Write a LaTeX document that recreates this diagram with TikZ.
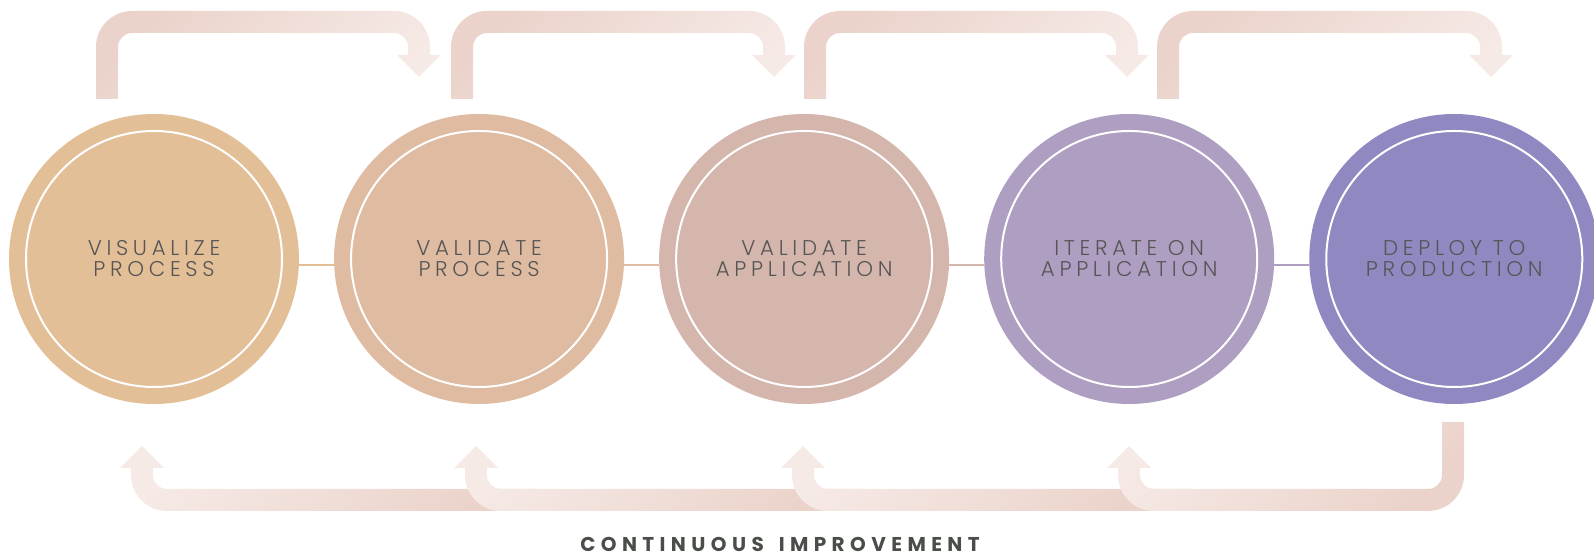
\documentclass[tikz,border=0pt]{standalone}
\usepackage{fontspec}
\setmainfont{Poppins}
\newfontfamily\stagefont[LetterSpace=22, UprightFont=* Light]{Poppins}
\newfontfamily\titlefont[LetterSpace=27, UprightFont=* Bold]{Poppins}
\usetikzlibrary{positioning}

\definecolor{stageA}{RGB}{227,191,152}
\definecolor{stageB}{RGB}{222,187,161}
\definecolor{stageC}{RGB}{212,182,172}
\definecolor{stageD}{RGB}{174,159,194}
\definecolor{stageE}{RGB}{144,137,193}
\definecolor{labelgray}{RGB}{85,85,85}
\definecolor{titlegray}{RGB}{74,78,72}
\definecolor{flowdark}{RGB}{235,211,203}
\definecolor{flowlight}{RGB}{246,234,230}

\begin{document}
\begin{tikzpicture}[
    x=0.75pt, y=0.75pt,
    node distance=25.9pt,
    stage/.style={circle, minimum size=217.5pt, inner sep=0pt, align=center,
                  text=labelgray, font=\stagefont\fontsize{16}{15.75}\selectfont},
    ring/.style={draw=white, line width=1.5pt},
    link/.style={line width=1.5pt},
    topflow/.style={top color=flowdark, bottom color=flowlight, shading angle=45},
    bottomflow/.style={top color=flowlight, bottom color=flowdark, shading angle=45},
    caption/.style={text=titlegray, font=\titlefont\fontsize{15}{18}\selectfont},
]
\useasboundingbox (0,0) rectangle (1594,555);

% Forward arrows over the stages
\foreach \a/\b in {107/419, 462/774, 815/1127, 1168/1491} {
  \shade[topflow] (\a-11,456) -- (\a-11,508) arc[start angle=180, end angle=90, radius=36]
    -- (\b-25,544) arc[start angle=90, end angle=0, radius=36]
    -- (\b+11,500) -- (\b+22,500) -- (\b,478) -- (\b-22,500) -- (\b-11,500)
    -- (\b-11,508) arc[start angle=0, end angle=90, radius=14]
    -- (\a+25,522) arc[start angle=90, end angle=180, radius=14]
    -- (\a+11,456) -- cycle;
}

% Feedback arrows under the stages
\foreach \k/\s in {142/536, 476/863, 803/1189} {
  \shade[bottomflow] (\s,66) -- (\k+25,66) arc[start angle=270, end angle=180, radius=14]
    -- (\k+11,87) -- (\k+22,87) -- (\k,109) -- (\k-22,87) -- (\k-11,87)
    -- (\k-11,80) arc[start angle=180, end angle=270, radius=36]
    -- (\s,44) -- cycle;
}
\shade[bottomflow] (1464,133) -- (1464,80) arc[start angle=0, end angle=-90, radius=36]
  -- (1154,44) arc[start angle=270, end angle=180, radius=36]
  -- (1118,87) -- (1107,87) -- (1129,109) -- (1151,87) -- (1140,87)
  -- (1140,80) arc[start angle=180, end angle=270, radius=14]
  -- (1428,66) arc[start angle=270, end angle=360, radius=14]
  -- (1442,133) -- cycle;

% Stages
\node[stage, fill=stageA] (visualize) at (154,296) {VISUALIZE\\PROCESS};
\node[stage, fill=stageB, right=of visualize] (valprocess) {VALIDATE\\PROCESS};
\node[stage, fill=stageC, right=of valprocess] (valapp) {VALIDATE\\APPLICATION};
\node[stage, fill=stageD, right=of valapp] (iterate) {ITERATE ON\\APPLICATION};
\node[stage, fill=stageE, right=of iterate] (deploy) {DEPLOY TO\\PRODUCTION};

\foreach \n in {visualize, valprocess, valapp, iterate, deploy}
  \draw[ring] (\n.center) circle[radius=128];

% Links between stages
\draw[link, stageA] ([yshift=-4.5pt]visualize.east) -- ([yshift=-4.5pt]valprocess.west);
\draw[link, stageB] ([yshift=-4.5pt]valprocess.east) -- ([yshift=-4.5pt]valapp.west);
\draw[link, stageC] ([yshift=-4.5pt]valapp.east) -- ([yshift=-4.5pt]iterate.west);
\draw[link, stageD] ([yshift=-4.5pt]iterate.east) -- ([yshift=-4.5pt]deploy.west);

\node[caption] (improve) at (780,11) {CONTINUOUS\hspace{4pt} IMPROVEMENT};
\end{tikzpicture}
\end{document}
